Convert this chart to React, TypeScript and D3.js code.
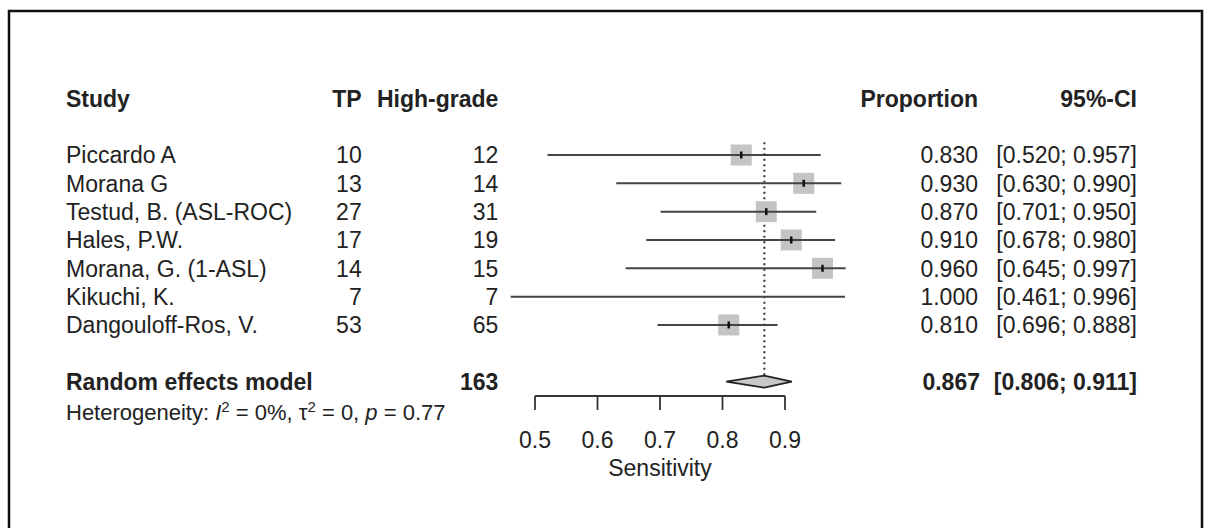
import React from 'react';
import * as d3 from 'd3';

const studies = ['Piccardo A', 'Morana G', 'Testud, B. (ASL-ROC)', 'Hales, P.W.', 'Morana, G. (1-ASL)', 'Kikuchi, K.', 'Dangouloff-Ros, V.'];
const tp = [10, 13, 27, 17, 14, 7, 53];
const highGrade = [12, 14, 31, 19, 15, 7, 65];
const proportion = [0.83, 0.93, 0.87, 0.91, 0.96, 1.0, 0.81];
const lower = [0.52, 0.63, 0.701, 0.678, 0.645, 0.461, 0.696];
const upper = [0.957, 0.99, 0.95, 0.98, 0.997, 0.996, 0.888];
const pooled = { est: 0.867, lo: 0.806, hi: 0.911, total: 163 };
const tickValues = [0.5, 0.6, 0.7, 0.8, 0.9];

const W = 1208;
const H = 528;
const FONT = '"Liberation Sans", Arial, Helvetica, sans-serif';
const FS = 23;

const App = () => {
  const x = d3.scaleLinear().domain([0.5, 0.9]).range([535, 785]);
  // row index -> vertical centre (header is row -2)
  const y = d3.scaleLinear().domain([0, 8]).range([155, 381.6]);
  const base = (r) => y(r) + FS * 0.36;
  const fmt = d3.format('.3f');
  const box = 21;

  const axisY = 396;
  const refX = x(pooled.est);
  const diamond = d3.line()([
    [x(pooled.lo), y(8)],
    [x(pooled.est), y(8) - 6],
    [x(pooled.hi), y(8)],
    [x(pooled.est), y(8) + 6],
  ]) + 'Z';

  const txt = { fontFamily: FONT, fontSize: FS, fill: '#222' };

  return (
    <svg width={W} height={H} style={{ position: 'absolute', left: 0, top: 0, background: '#fff' }}>
      {/* frame */}
      <path d={`M9,${H} L9,11 L1202,11 L1202,${H}`} fill="none" stroke="#111" strokeWidth={2.5} />

      {/* header */}
      <g style={{ ...txt, fontWeight: 'bold' }}>
        <text x={66} y={base(-2)}>Study</text>
        <text x={361.7} y={base(-2)} textAnchor="end">TP</text>
        <text x={498.3} y={base(-2)} textAnchor="end">High-grade</text>
        <text x={978} y={base(-2)} textAnchor="end">Proportion</text>
        <text x={1137} y={base(-2)} textAnchor="end">95%-CI</text>
      </g>

      {/* study rows text */}
      <g style={txt}>
        {studies.map((s, i) => (
          <g key={s}>
            <text x={66} y={base(i)}>{s}</text>
            <text x={361.7} y={base(i)} textAnchor="end">{tp[i]}</text>
            <text x={498.3} y={base(i)} textAnchor="end">{highGrade[i]}</text>
            <text x={978} y={base(i)} textAnchor="end">{fmt(proportion[i])}</text>
            <text x={1137} y={base(i)} textAnchor="end">{`[${fmt(lower[i])}; ${fmt(upper[i])}]`}</text>
          </g>
        ))}
      </g>

      {/* reference line */}
      <line x1={refX} x2={refX} y1={y(-0.45)} y2={y(8) - 6} stroke="#333" strokeWidth={2} strokeDasharray="2,3.5" />

      {/* study marks */}
      {studies.map((s, i) => (
        <g key={'m' + s}>
          {proportion[i] <= upper[i] && (
            <rect x={x(proportion[i]) - box / 2} y={y(i) - box / 2} width={box} height={box} fill="#c4c4c4" />
          )}
          <line x1={x(lower[i])} x2={x(upper[i])} y1={y(i)} y2={y(i)} stroke="#444" strokeWidth={2} />
          {proportion[i] <= upper[i] && (
            <line x1={x(proportion[i])} x2={x(proportion[i])} y1={y(i) - 3.5} y2={y(i) + 3.5} stroke="#111" strokeWidth={2.5} />
          )}
        </g>
      ))}

      {/* pooled */}
      <path d={diamond} fill="#c8c8c8" stroke="#222" strokeWidth={1.8} />
      <g style={{ ...txt, fontWeight: 'bold' }}>
        <text x={66} y={base(8)}>Random effects model</text>
        <text x={498.3} y={base(8)} textAnchor="end">{pooled.total}</text>
        <text x={980} y={base(8)} textAnchor="end">{fmt(pooled.est)}</text>
        <text x={1137} y={base(8)} textAnchor="end">{`[${fmt(pooled.lo)}; ${fmt(pooled.hi)}]`}</text>
      </g>
      <text x={66} y={411.7 + 22 * 0.36} style={{ ...txt, fontSize: 22 }}>
        Heterogeneity: <tspan fontStyle="italic">I</tspan>
        <tspan fontSize={15} dy={-8}>2</tspan>
        <tspan dy={8}> = 0%, τ</tspan>
        <tspan fontSize={15} dy={-8}>2</tspan>
        <tspan dy={8}> = 0, </tspan>
        <tspan fontStyle="italic">p</tspan>
        <tspan> = 0.77</tspan>
      </text>

      {/* axis */}
      <g stroke="#333" strokeWidth={1.8}>
        <line x1={x(tickValues[0])} x2={x(tickValues[tickValues.length - 1])} y1={axisY} y2={axisY} />
        {tickValues.map((t) => (
          <line key={t} x1={x(t)} x2={x(t)} y1={axisY} y2={axisY + 14} />
        ))}
      </g>
      <g style={txt}>
        {tickValues.map((t) => (
          <text key={t} x={x(t)} y={440 + FS * 0.36} textAnchor="middle">{d3.format('.1f')(t)}</text>
        ))}
        <text x={x(0.7)} y={468 + FS * 0.36} textAnchor="middle">Sensitivity</text>
      </g>
    </svg>
  );
};

export default App;
